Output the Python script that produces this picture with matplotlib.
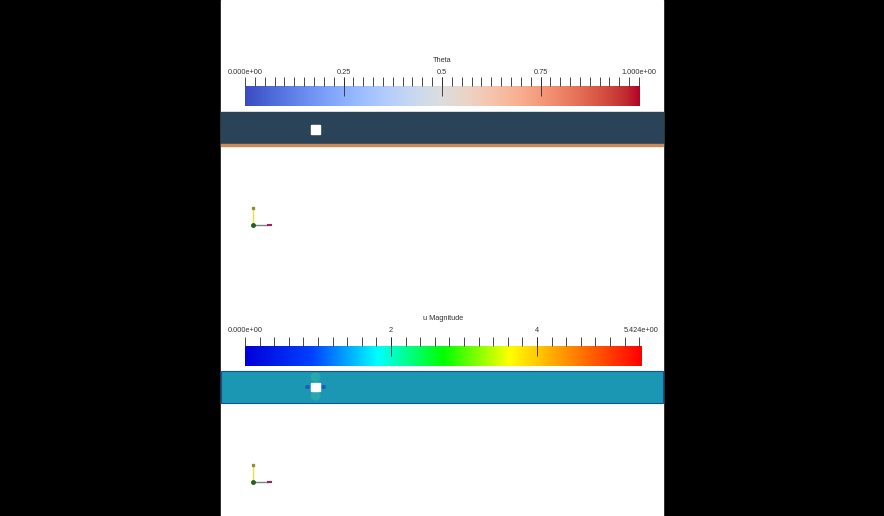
import numpy as np
import matplotlib
matplotlib.use('Agg')
import matplotlib.pyplot as plt
from matplotlib.colors import LinearSegmentedColormap
from matplotlib.patches import Rectangle, Ellipse

W, H = 884, 516

# colour bar data
theta_title = 'Theta'
theta_range = (0.0, 1.0)
theta_minor_step = 0.025
theta_major = [0.25, 0.5, 0.75]
theta_labels = ['0.000e+00', '0.25', '0.5', '0.75', '1.000e+00']
theta_label_pos = [0.0, 0.25, 0.5, 0.75, 1.0]

u_title = 'u Magnitude'
u_range = (0.0, 5.424)
u_minor_step = 0.2
u_major = [2, 4]
u_labels = ['0.000e+00', '2', '4', '5.424e+00']
u_label_pos = [0.0, 2.0, 4.0, 5.424]

rainbow = LinearSegmentedColormap.from_list(
    'rainbow_pv', ['#0000d8', '#0040ff', '#00ffff', '#00ff00', '#ffff00', '#ff8000', '#ff0000'])
coolwarm = plt.get_cmap('coolwarm')

font = dict(family=['Liberation Sans', 'DejaVu Sans'], size=5.3, color='#333333')


def box(x0, y0, x1, y1):
    return [x0 / W, 1 - y1 / H, (x1 - x0) / W, (y1 - y0) / H]


fig = plt.figure(figsize=(W / 100, H / 100), dpi=100, facecolor='black')
ax = fig.add_axes([0, 0, 1, 1])
ax.set_xlim(0, W)
ax.set_ylim(H, 0)
ax.axis('off')
ax.add_patch(Rectangle((221, 0), 442, H, color='white', zorder=0))

# top view: theta (cold channel, hot bottom wall)
ax.add_patch(Rectangle((221, 112), 442, 31, color='#2b4359', zorder=1))
ax.add_patch(Rectangle((221, 143.5), 442, 2, color='#c98a58', zorder=1))
ax.add_patch(Rectangle((311, 124.5), 9, 9, color='white', zorder=3))

# bottom view: u magnitude
ax.add_patch(Rectangle((221, 370.5), 442, 32.5, facecolor='#1b97b3',
                       edgecolor='#12509c', lw=0.8, zorder=1))
ax.add_patch(Ellipse((315.5, 377), 10, 9, color='#3cbca4', alpha=0.45, lw=0, zorder=2))
ax.add_patch(Ellipse((315.5, 396), 10, 9, color='#3cbca4', alpha=0.45, lw=0, zorder=2))
ax.add_patch(Ellipse((307.5, 387), 5, 4, color='#1848b8', alpha=0.7, lw=0, zorder=2))
ax.add_patch(Ellipse((323.5, 387), 5, 4, color='#1848b8', alpha=0.7, lw=0, zorder=2))
ax.add_patch(Rectangle((311, 382.5), 9, 8.5, color='white', zorder=3))

# orientation triads
for oy in [225, 482]:
    ax.plot([253, 253], [oy - 16, oy], color='#e8e040', lw=1, zorder=4)
    ax.plot([253, 268], [oy, oy], color='#808080', lw=1, zorder=4)
    ax.plot([268, 271], [oy, oy], color='#a02060', lw=1.5, zorder=4)
    ax.plot([253], [oy - 17], marker='s', ms=1.5, color='#909030', zorder=4)
    ax.plot([253], [oy], marker='o', ms=2.5, color='#206020', zorder=5)


def colorbar(rect, cmap, vrange, step, majors, labels, label_pos, title, lab_y, title_y):
    cax = fig.add_axes(box(*rect))
    lo, hi = vrange
    grad = np.linspace(0, 1, 256).reshape(1, -1)
    cax.imshow(grad, cmap=cmap, extent=[lo, hi, 0, 20], aspect='auto')
    cax.set_xlim(lo, hi)
    cax.set_ylim(0, 29)
    cax.axis('off')
    minors = np.arange(lo, hi + 1e-9, step)
    cax.vlines(minors, 20, 29, color='#2a2a2a', lw=0.6, clip_on=False)
    cax.vlines(majors, 10, 29, color='#2a2a2a', lw=0.6, clip_on=False)
    for v, s in zip(label_pos, labels):
        cax.text(v, lab_y, s, ha='center', va='center', clip_on=False, **font)
    cax.text((lo + hi) / 2, title_y, title, ha='center', va='center', clip_on=False, **font)


colorbar((245, 77, 639, 106), coolwarm, theta_range, theta_minor_step, theta_major,
         theta_labels, theta_label_pos, theta_title, 34, 45)
colorbar((245, 337, 641, 366), rainbow, u_range, u_minor_step, u_major,
         u_labels, u_label_pos, u_title, 35, 48)

fig.savefig('out.png', dpi=100, facecolor='black')
